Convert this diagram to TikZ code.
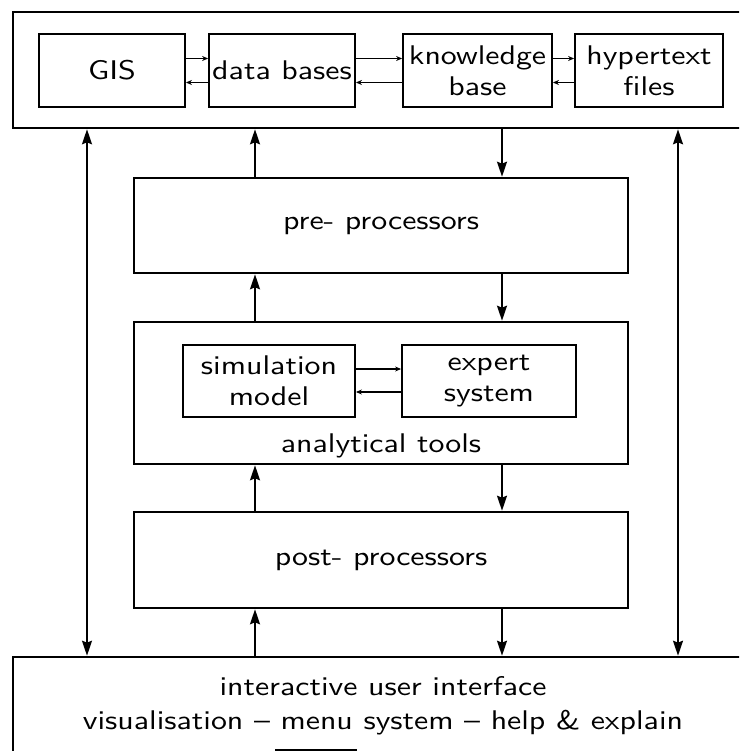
\documentclass[tikz,border=0pt]{standalone}
\usepackage{fontspec}
\setsansfont{lmsans10-regular.otf}[FakeStretch=1.18]
\usetikzlibrary{arrows.meta}
\begin{document}
\begin{tikzpicture}[x=1pt,y=-1pt,
  every node/.style={font=\sffamily\fontsize{27}{31}\selectfont, align=center},
  outerbox/.style={draw, line width=2.6pt, inner sep=0pt},
  midbox/.style={draw, line width=2.6pt, inner sep=0pt, minimum width=494pt},
  inbox/.style={draw, line width=1.8pt, inner sep=0pt},
  txt/.style={inner sep=0pt},
  bigarrow/.style={line width=1.8pt, -{Stealth[length=15pt,width=10pt,inset=2pt]}},
  bigboth/.style={line width=1.8pt, {Stealth[length=15pt,width=10pt,inset=2pt]}-{Stealth[length=15pt,width=10pt,inset=2pt]}},
  smallarrow/.style={line width=1.6pt, -{Stealth[length=6pt,width=5pt]}}
]
\useasboundingbox (0,0) rectangle (739,751);
\clip (0,0) rectangle (739,751);

% outer frames (open to the right and bottom edges)
\node[outerbox, minimum width=747pt, minimum height=116pt] (store) at (386.5,70) {};
\node[outerbox, minimum width=747pt, minimum height=134pt] (ui) at (386.5,724) {};
\node[txt] (uitext) at (383,706) {interactive user interface\\[3pt]visualisation -- menu system -- help \& explain};

% information sources
\node[inbox, minimum width=146pt, minimum height=73pt] (gis) at (112,70.5) {GIS};
\node[inbox, minimum width=146pt, minimum height=73pt] (db) at (282,70.5) {data bases};
\node[inbox, minimum width=149pt, minimum height=73pt] (kb) at (477.5,70.5) {knowledge\\base};
\node[inbox, minimum width=148pt, minimum height=73pt] (ht) at (649,70.5) {hypertext\\files};

% processing chain
\node[midbox, minimum height=95pt] (pre) at (381,225.5) {pre- processors};
\node[midbox, minimum height=142pt] (an) at (381,393) {};
\node[midbox, minimum height=96pt] (post) at (381,560) {post- processors};

\node[inbox, minimum width=172pt, minimum height=72pt] (sim) at (269,381) {simulation\\model};
\node[inbox, minimum width=174pt, minimum height=72pt] (exp) at (489,381) {expert\\system};
\node[txt] (antext) at (381,446) {analytical tools};

% arrow columns
\coordinate (cl) at (87,0);
\coordinate (cu) at (255,0);
\coordinate (cd) at (502,0);
\coordinate (cr) at (678,0);

% links between the sources (upper line rightwards, lower line leftwards)
\draw[smallarrow] ([yshift=12pt]gis.east) -- ([yshift=12pt]db.west);
\draw[smallarrow] ([yshift=-12pt]db.west) -- ([yshift=-12pt]gis.east);
\draw[smallarrow] ([yshift=12pt]db.east) -- ([yshift=12pt]kb.west);
\draw[smallarrow] ([yshift=-12pt]kb.west) -- ([yshift=-12pt]db.east);
\draw[smallarrow] ([yshift=12pt]kb.east) -- ([yshift=12pt]ht.west);
\draw[smallarrow] ([yshift=-12pt]ht.west) -- ([yshift=-12pt]kb.east);

% links between the analytical tools
\draw[smallarrow] ([yshift=12pt]sim.east) -- ([yshift=12pt]exp.west);
\draw[smallarrow] ([yshift=-11pt]exp.west) -- ([yshift=-11pt]sim.east);

% upward flow
\draw[bigarrow] (pre.north -| cu) -- (store.south -| cu);
\draw[bigarrow] (an.north -| cu) -- (pre.south -| cu);
\draw[bigarrow] (post.north -| cu) -- (an.south -| cu);
\draw[bigarrow] (ui.north -| cu) -- (post.south -| cu);

% downward flow
\draw[bigarrow] (store.south -| cd) -- (pre.north -| cd);
\draw[bigarrow] (pre.south -| cd) -- (an.north -| cd);
\draw[bigarrow] (an.south -| cd) -- (post.north -| cd);
\draw[bigarrow] (post.south -| cd) -- (ui.north -| cd);

% direct links between the sources and the interface
\draw[bigboth] (store.south -| cl) -- (ui.north -| cl);
\draw[bigboth] (store.south -| cr) -- (ui.north -| cr);

% short rule under the interface text
\coordinate (ra) at (275,750);
\coordinate (rb) at (357,750);
\draw[line width=1.5pt] (ra) -- (rb);
\end{tikzpicture}
\end{document}
